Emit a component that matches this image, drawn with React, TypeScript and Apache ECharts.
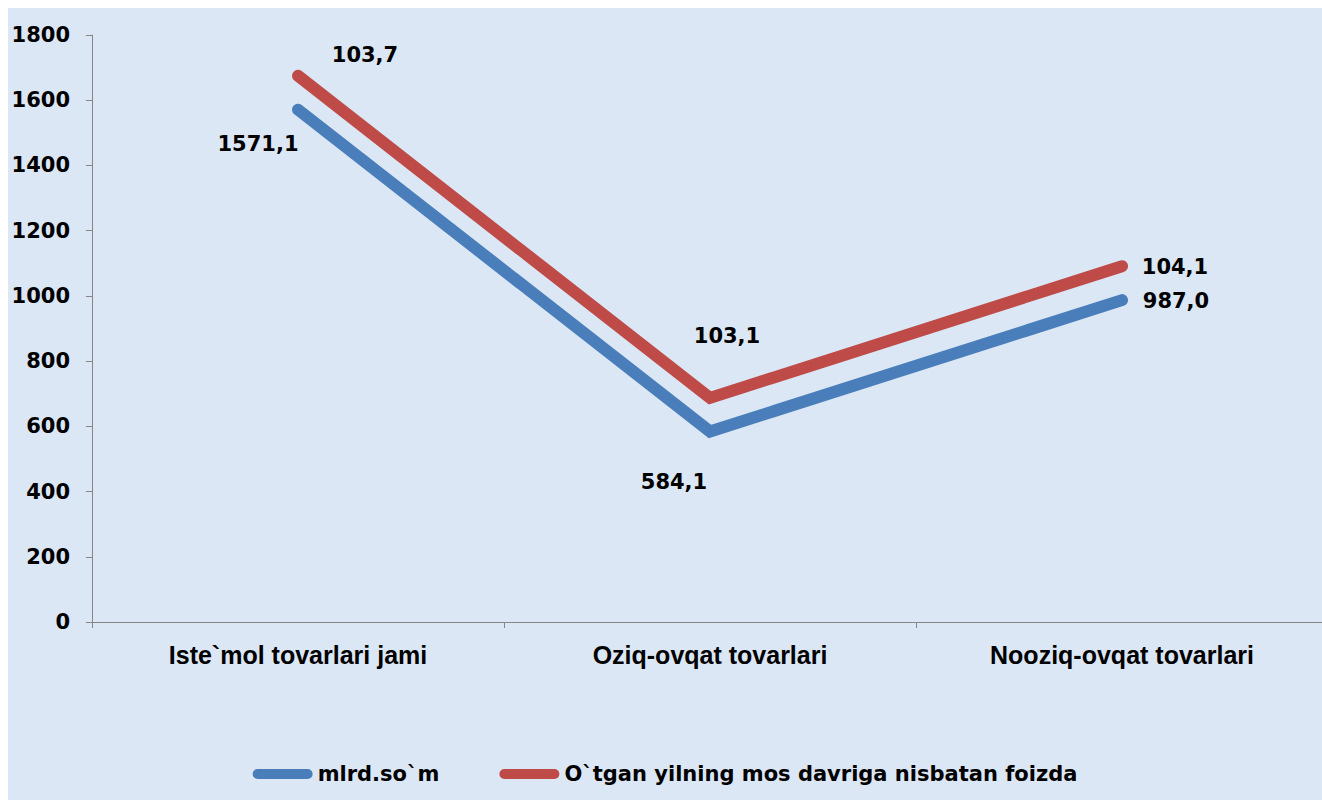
import React, { useEffect, useRef } from "react";
import * as echarts from "echarts";

const categories = ["Iste`mol tovarlari jami", "Oziq-ovqat tovarlari", "Nooziq-ovqat tovarlari"];
const mlrdSom = [1571.1, 584.1, 987.0];
const foizda = [103.7, 103.1, 104.1];
const seriesNames = ["mlrd.so`m", "O`tgan yilning mos davriga nisbatan foizda"];
const yMin = 0;
const yMax = 1800;
const yInterval = 200;

// label offsets (layout only)
const blueOffsets = [[-40, 34], [-36, 50], [54, 1]];
const redOffsets = [[67, -21], [17, -62], [53, 1]];

const fmt = (v: number) => v.toFixed(1).replace(".", ",");

export default function App() {
  const ref = useRef<HTMLDivElement>(null);
  useEffect(() => {
    document.documentElement.style.overflow = "hidden";
    const chart = echarts.init(ref.current!, null, { renderer: "svg" });
    const labelFont = {
      fontFamily: "'DejaVu Sans', sans-serif",
      fontWeight: "bold" as const,
      fontSize: 21,
      color: "#000",
    };
    const mkData = (vals: number[], offs: number[][]) =>
      vals.map((v, i) => ({
        value: v,
        label: { show: true, position: "inside", offset: offs[i], ...labelFont, formatter: (p: any) => fmt(p.value) },
      }));
    chart.setOption({
      animation: false,
      backgroundColor: "#dbe7f5",
      grid: { left: 84, top: 27, bottom: 178, right: -6, containLabel: false, outerBoundsMode: "none" },
      legend: {
        left: "center",
        top: 749,
        itemWidth: 60,
        itemHeight: 10,
        itemGap: 60,
        icon: "path://M5,0 H55 A5,5 0 0 1 55,10 H5 A5,5 0 0 1 5,0 Z",
        textStyle: { ...labelFont, lineHeight: 24 },
        data: seriesNames,
      },
      xAxis: {
        type: "category",
        data: categories,
        boundaryGap: true,
        axisLine: { lineStyle: { color: "#868686", width: 1 } },
        axisTick: { show: true, length: 6, lineStyle: { color: "#868686" } },
        axisLabel: {
          margin: 19,
          fontFamily: "Arial, 'Liberation Sans', sans-serif",
          fontWeight: "bold",
          fontSize: 25,
          color: "#000",
          lineHeight: 28,
        },
        splitLine: { show: false },
      },
      yAxis: {
        type: "value",
        min: yMin,
        max: yMax,
        interval: yInterval,
        axisLine: { show: true, lineStyle: { color: "#868686", width: 1 } },
        axisTick: { show: true, length: 6, lineStyle: { color: "#868686" } },
        axisLabel: { margin: 22, ...labelFont, formatter: (v: number) => String(v) },
        splitLine: { show: false },
      },
      series: [
        {
          name: seriesNames[0],
          type: "line",
          stack: "total",
          data: mkData(mlrdSom, blueOffsets),
          symbol: "circle",
          symbolSize: 1,
          showSymbol: true,
          itemStyle: { color: "#4A7EBB" },
          lineStyle: { color: "#4A7EBB", width: 12, cap: "round", join: "miter" },
          z: 2,
        },
        {
          name: seriesNames[1],
          type: "line",
          stack: "total",
          data: mkData(foizda, redOffsets),
          symbol: "circle",
          symbolSize: 1,
          showSymbol: true,
          itemStyle: { color: "#BE4B48" },
          lineStyle: { color: "#BE4B48", width: 12, cap: "round", join: "miter" },
          z: 3,
        },
      ],
    });
    return () => chart.dispose();
  }, []);
  return (
    <div
      ref={ref}
      style={{ position: "fixed", left: 8, top: 8, width: 1314, height: 792, background: "#dbe7f5" }}
    />
  );
}
